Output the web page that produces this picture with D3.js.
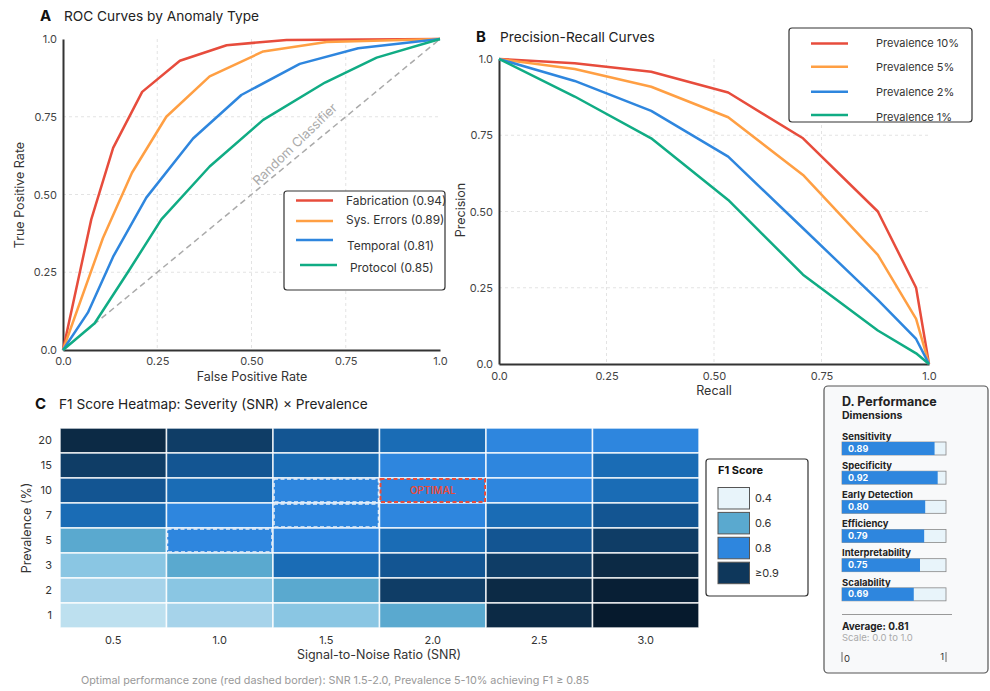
<!DOCTYPE html>
<html>
<head>
<meta charset="utf-8">
<script src="https://cdn.jsdelivr.net/npm/d3@7"></script>
<style>
  body { margin: 0; background: #fff; }
  svg { font-family: Inter, "Noto Sans", sans-serif; }
</style>
</head>
<body>
<svg id="chart"></svg>
<script>
// ---- data ----
const rocNames = ["Fabrication (0.94)", "Sys. Errors (0.89)", "Temporal (0.81)", "Protocol (0.85)"];
const rocFabrication = [[0,0],[0.075,0.42],[0.133,0.65],[0.21,0.83],[0.31,0.93],[0.434,0.98],[0.593,0.997],[1,1]];
const rocSysErrors   = [[0,0],[0.106,0.36],[0.183,0.57],[0.274,0.75],[0.389,0.88],[0.531,0.96],[0.699,0.99],[1,1]];
const rocTemporal    = [[0,0],[0.066,0.12],[0.133,0.30],[0.221,0.49],[0.345,0.68],[0.473,0.82],[0.628,0.92],[0.783,0.97],[1,1]];
const rocProtocol    = [[0,0],[0.084,0.086],[0.172,0.25],[0.261,0.42],[0.389,0.59],[0.531,0.74],[0.695,0.86],[0.832,0.94],[1,1]];

const prNames = ["Prevalence 10%", "Prevalence 5%", "Prevalence 2%", "Prevalence 1%"];
const recall = [0, 0.176, 0.354, 0.533, 0.707, 0.881, 0.97, 1.0];
const prec10 = [1, 0.986, 0.958, 0.89, 0.74, 0.50, 0.25, 0];
const prec5  = [1, 0.967, 0.909, 0.809, 0.62, 0.358, 0.148, 0];
const prec2  = [1, 0.928, 0.83, 0.68, 0.445, 0.21, 0.082, 0];
const prec1  = [1, 0.877, 0.74, 0.538, 0.293, 0.11, 0.035, 0];

const axisTicks = [0, 0.25, 0.5, 0.75, 1];
const axisTickLabels = ["0.0", "0.25", "0.50", "0.75", "1.0"];

const snrLevels = ["0.5", "1.0", "1.5", "2.0", "2.5", "3.0"];
const prevLevels = ["20", "15", "10", "7", "5", "3", "2", "1"];
const f1Grid = [
  [0.92, 0.89, 0.86, 0.83, 0.80, 0.80],
  [0.89, 0.86, 0.83, 0.80, 0.80, 0.83],
  [0.86, 0.83, 0.80, 0.80, 0.80, 0.83],
  [0.83, 0.80, 0.80, 0.80, 0.83, 0.86],
  [0.60, 0.80, 0.80, 0.83, 0.86, 0.89],
  [0.55, 0.60, 0.83, 0.86, 0.89, 0.92],
  [0.50, 0.55, 0.60, 0.89, 0.92, 0.94],
  [0.45, 0.50, 0.55, 0.60, 0.92, 0.95]
];
const highlightCells = [["1.5","10"], ["1.5","7"], ["1.0","5"]];
const optimalCell = ["2.0", "10"];
const f1LegendValues = [0.4, 0.6, 0.8, 0.9];
const f1LegendLabels = ["0.4", "0.6", "0.8", "≥0.9"];

const dimNames = ["Sensitivity", "Specificity", "Early Detection", "Efficiency", "Interpretability", "Scalability"];
const dimValues = [0.89, 0.92, 0.80, 0.79, 0.75, 0.69];

// ---- setup ----
const svg = d3.select("#chart").attr("width", 990).attr("height", 691);
const lineColors = ["#e74c3c", "#ff9f43", "#2e86de", "#10ac84"];

function panelTitle(x, y, letter, text) {
  svg.append("text").attr("x", x).attr("y", y).attr("dy", "0.35em")
    .attr("font-size", 15).attr("font-weight", 700).attr("fill", "#111").text(letter);
  svg.append("text").attr("x", x + 24).attr("y", y).attr("dy", "0.35em")
    .attr("font-size", 13.7).attr("fill", "#222").text(text);
}

function drawFrame(g, x, y, x0, x1, y0, y1, xLabelY) {
  // grid
  g.selectAll(".vg").data(axisTicks.slice(1, 4)).join("line")
    .attr("x1", d => x(d)).attr("x2", d => x(d)).attr("y1", y1).attr("y2", y0)
    .attr("stroke", "#e3e3e3").attr("stroke-dasharray", "3,3");
  g.selectAll(".hg").data(axisTicks.slice(1, 4)).join("line")
    .attr("class", "hg")
    .attr("x1", x0).attr("x2", x1).attr("y1", d => y(d)).attr("y2", d => y(d))
    .attr("stroke", "#e3e3e3").attr("stroke-dasharray", "3,3");

  const fmt = (d, i) => axisTickLabels[i];
  const xa = g.append("g").attr("transform", `translate(0,${y0})`)
    .call(d3.axisBottom(x).tickValues(axisTicks).tickFormat(fmt).tickSize(0).tickPadding(xLabelY));
  const ya = g.append("g").attr("transform", `translate(${x0},0)`)
    .call(d3.axisLeft(y).tickValues(axisTicks).tickFormat(fmt).tickSize(0).tickPadding(6));
  [xa, ya].forEach(a => {
    a.select(".domain").attr("stroke", "#333").attr("stroke-width", 2);
    a.selectAll("text").attr("font-size", 11).attr("fill", "#444").attr("font-family", "Inter, sans-serif");
  });
}

// ---- Panel A: ROC ----
panelTitle(40, 16, "A", "ROC Curves by Anomaly Type");
const ax = d3.scaleLinear().domain([0, 1]).range([63, 440]);
const ay = d3.scaleLinear().domain([0, 1]).range([350, 39]);
const gA = svg.append("g");
drawFrame(gA, ax, ay, 63, 440, 350, 39, 7);

gA.append("line").attr("x1", ax(0)).attr("y1", ay(0)).attr("x2", ax(1)).attr("y2", ay(1))
  .attr("stroke", "#aaa").attr("stroke-width", 1.5).attr("stroke-dasharray", "6,4");
gA.append("text").attr("transform", `translate(${ax(0.615)},${ay(0.662)}) rotate(-44)`)
  .attr("text-anchor", "middle").attr("dy", "0.35em")
  .attr("font-size", 13).attr("fill", "#aaa").text("Random Classifier");

const rocLine = d3.line().x(d => ax(d[0])).y(d => ay(d[1]));
[rocFabrication, rocSysErrors, rocTemporal, rocProtocol].forEach((s, i) => {
  gA.append("path").datum(s).attr("d", rocLine).attr("fill", "none")
    .attr("stroke", lineColors[i]).attr("stroke-width", 2.5).attr("stroke-linejoin", "round");
});

// legend A
const legA = svg.append("g");
const legALineY = [200.5, 221, 240, 265];
const legATextY = [201, 220, 246, 268];
const legALineX = [296, 296, 296, 300];
const legATextX = [346, 346, 347, 350];
legA.append("rect").attr("x", 284).attr("y", 191).attr("width", 161).attr("height", 99)
  .attr("rx", 3).attr("fill", "#fff").attr("stroke", "#333").attr("stroke-width", 1.2);
rocNames.forEach((n, i) => {
  legA.append("line").attr("x1", legALineX[i]).attr("x2", legALineX[i] + 37)
    .attr("y1", legALineY[i]).attr("y2", legALineY[i])
    .attr("stroke", lineColors[i]).attr("stroke-width", 2.5);
  legA.append("text").attr("x", legATextX[i]).attr("y", legATextY[i]).attr("dy", "0.35em")
    .attr("font-size", 11.9).attr("fill", "#333").text(n);
});

svg.append("text").attr("x", 252).attr("y", 377).attr("text-anchor", "middle").attr("dy", "0.35em")
  .attr("font-size", 12.5).attr("fill", "#333").text("False Positive Rate");
svg.append("text").attr("transform", "translate(20,195) rotate(-90)").attr("text-anchor", "middle")
  .attr("dy", "0.35em").attr("font-size", 12.5).attr("fill", "#333").text("True Positive Rate");

// ---- Panel B: PR ----
panelTitle(476, 37, "B", "Precision-Recall Curves");
const bx = d3.scaleLinear().domain([0, 1]).range([499, 929]);
const by = d3.scaleLinear().domain([0, 1]).range([364, 59]);
const gB = svg.append("g");
drawFrame(gB, bx, by, 499, 929, 364, 59, 8);

const prLine = d3.line().x((d, i) => bx(recall[i])).y(d => by(d));
[prec10, prec5, prec2, prec1].forEach((s, i) => {
  gB.append("path").datum(s).attr("d", prLine).attr("fill", "none")
    .attr("stroke", lineColors[i]).attr("stroke-width", 2.5).attr("stroke-linejoin", "round");
});

const legB = svg.append("g");
const legBLineY = [43.5, 66.7, 91.7, 115];
const legBTextY = [42.7, 66.7, 92.3, 116.7];
legB.append("rect").attr("x", 789).attr("y", 28).attr("width", 183).attr("height", 94)
  .attr("rx", 3).attr("fill", "#fff");
prNames.forEach((n, i) => {
  legB.append("line").attr("x1", 811).attr("x2", 848).attr("y1", legBLineY[i]).attr("y2", legBLineY[i])
    .attr("stroke", lineColors[i]).attr("stroke-width", 2.5);
  legB.append("text").attr("x", 876).attr("y", legBTextY[i]).attr("dy", "0.35em")
    .attr("font-size", 11).attr("fill", "#333").text(n);
});
legB.append("rect").attr("x", 789).attr("y", 28).attr("width", 183).attr("height", 94)
  .attr("rx", 3).attr("fill", "none").attr("stroke", "#333").attr("stroke-width", 1.2);

svg.append("text").attr("x", 714).attr("y", 391).attr("text-anchor", "middle").attr("dy", "0.35em")
  .attr("font-size", 12.5).attr("fill", "#333").text("Recall");
svg.append("text").attr("transform", "translate(461,210) rotate(-90)").attr("text-anchor", "middle")
  .attr("dy", "0.35em").attr("font-size", 12.5).attr("fill", "#333").text("Precision");

// ---- Panel C: heatmap ----
panelTitle(35, 404, "C", "F1 Score Heatmap: Severity (SNR) × Prevalence");
const hx = d3.scaleBand().domain(snrLevels).range([60, 699]);
const hy = d3.scaleBand().domain(prevLevels).range([428, 628]);
const color = d3.scaleLinear()
  .domain([0.40, 0.45, 0.50, 0.55, 0.60, 0.80, 0.83, 0.86, 0.89, 0.92, 0.95])
  .range(["#e8f4fa", "#bde0ef", "#a6d3ea", "#8ac6e3", "#5aa9cf", "#2e86de", "#1a6cb5", "#135592", "#0f3d66", "#0c2a45", "#061a2d"])
  .clamp(true);

const cells = [];
prevLevels.forEach((p, r) => snrLevels.forEach((s, c) => cells.push({ s, p, v: f1Grid[r][c] })));
const gC = svg.append("g");
gC.selectAll("rect.cell").data(cells).join("rect").attr("class", "cell")
  .attr("x", d => hx(d.s)).attr("y", d => hy(d.p))
  .attr("width", hx.bandwidth()).attr("height", hy.bandwidth())
  .attr("fill", d => color(d.v)).attr("stroke", "#fff").attr("stroke-width", 1.5)
  .attr("stroke-opacity", 0.85);

gC.selectAll("rect.hl").data(highlightCells).join("rect").attr("class", "hl")
  .attr("x", d => hx(d[0]) + 1).attr("y", d => hy(d[1]) + 1)
  .attr("width", hx.bandwidth() - 2).attr("height", hy.bandwidth() - 2)
  .attr("fill", "none").attr("stroke", "#e6eef8").attr("stroke-width", 1.5).attr("stroke-dasharray", "4,2.5");

gC.append("rect").attr("x", hx(optimalCell[0]) + 1).attr("y", hy(optimalCell[1]) + 1)
  .attr("width", hx.bandwidth() - 2).attr("height", hy.bandwidth() - 2)
  .attr("fill", "none").attr("stroke", "#e74c3c").attr("stroke-width", 2).attr("stroke-dasharray", "4,2.5");
gC.append("text").attr("x", hx(optimalCell[0]) + hx.bandwidth() / 2).attr("y", hy(optimalCell[1]) + hy.bandwidth() / 2)
  .attr("text-anchor", "middle").attr("dy", "0.35em").attr("font-size", 10).attr("font-weight", 600)
  .attr("font-family", "Inter, sans-serif").attr("fill", "#e74c3c").text("OPTIMAL");

const hxa = gC.append("g").attr("transform", "translate(0,628)")
  .call(d3.axisBottom(hx).tickSize(0).tickPadding(8));
const hya = gC.append("g").attr("transform", "translate(60,0)")
  .call(d3.axisLeft(hy).tickSize(0).tickPadding(8));
[hxa, hya].forEach(a => {
  a.select(".domain").remove();
  a.selectAll("text").attr("font-size", 11).attr("fill", "#333").attr("font-family", "Inter, sans-serif");
});
svg.append("text").attr("x", 379).attr("y", 655).attr("text-anchor", "middle").attr("dy", "0.35em")
  .attr("font-size", 12.5).attr("fill", "#333").text("Signal-to-Noise Ratio (SNR)");
svg.append("text").attr("transform", "translate(27,528) rotate(-90)").attr("text-anchor", "middle")
  .attr("dy", "0.35em").attr("font-size", 12.5).attr("fill", "#333").text("Prevalence (%)");

// F1 legend
const legC = svg.append("g");
legC.append("rect").attr("x", 706).attr("y", 459).attr("width", 102).attr("height", 137)
  .attr("rx", 3).attr("fill", "#fff").attr("stroke", "#333").attr("stroke-width", 1.2);
legC.append("text").attr("x", 718).attr("y", 470).attr("dy", "0.35em").attr("font-size", 11)
  .attr("font-weight", 700).attr("fill", "#111").text("F1 Score");
f1LegendValues.forEach((v, i) => {
  legC.append("rect").attr("x", 718).attr("y", 487.5 + i * 24.9).attr("width", 31.5).attr("height", 21.5)
    .attr("fill", color(v)).attr("stroke", "#555").attr("stroke-width", 1);
  legC.append("text").attr("x", 755).attr("y", 498 + i * 24.9).attr("dy", "0.35em")
    .attr("font-size", 11).attr("fill", "#333").text(f1LegendLabels[i]);
});

svg.append("text").attr("x", 335).attr("y", 680).attr("text-anchor", "middle").attr("dy", "0.35em")
  .attr("font-size", 10.8).attr("fill", "#999").text("Optimal performance zone (red dashed border): SNR 1.5-2.0, Prevalence 5-10% achieving F1 ≥ 0.85");

// ---- Panel D: performance dimensions ----
const gD = svg.append("g");
gD.append("rect").attr("x", 824).attr("y", 386).attr("width", 164).attr("height", 287)
  .attr("rx", 4).attr("fill", "#f8f9fa").attr("stroke", "#555").attr("stroke-width", 1.2);
gD.append("text").attr("x", 842).attr("y", 401.5).attr("dy", "0.35em").attr("font-size", 12.5)
  .attr("font-weight", 700).attr("fill", "#222").text("D. Performance");
gD.append("text").attr("x", 842).attr("y", 415).attr("dy", "0.35em").attr("font-size", 10.5)
  .attr("font-weight", 700).attr("fill", "#222").text("Dimensions");

const dx = d3.scaleLinear().domain([0, 1]).range([842, 946]);
const dy = d3.scaleBand().domain(dimNames).range([432, 607]);
dimNames.forEach((n, i) => {
  const y0 = dy(n);
  gD.append("text").attr("x", 842).attr("y", y0 + 4.5).attr("dy", "0.35em").attr("font-size", 9.5)
    .attr("font-weight", 700).attr("fill", "#222").text(n);
  gD.append("rect").attr("x", dx(0)).attr("y", y0 + 10).attr("width", dx(1) - dx(0)).attr("height", 13)
    .attr("fill", "#e8f4fa").attr("stroke", "#888").attr("stroke-width", 0.8);
  gD.append("rect").attr("x", dx(0)).attr("y", y0 + 10).attr("width", dx(dimValues[i]) - dx(0)).attr("height", 13)
    .attr("fill", "#2e86de");
  gD.append("text").attr("x", 848).attr("y", y0 + 16.5).attr("dy", "0.35em").attr("font-size", 9)
    .attr("font-weight", 700).attr("fill", "#fff").text(dimValues[i].toFixed(2));
});
gD.append("line").attr("x1", 842).attr("x2", 952).attr("y1", 614.5).attr("y2", 614.5)
  .attr("stroke", "#999").attr("stroke-width", 1);
const avg = d3.mean(dimValues);
gD.append("text").attr("x", 842).attr("y", 626).attr("dy", "0.35em").attr("font-size", 10)
  .attr("font-weight", 700).attr("fill", "#222").text("Average: " + avg.toFixed(2));
gD.append("text").attr("x", 842).attr("y", 638).attr("dy", "0.35em").attr("font-size", 9.5)
  .attr("fill", "#aaa").text("Scale: 0.0 to 1.0");
gD.append("line").attr("x1", dx(0)).attr("x2", dx(0)).attr("y1", 652).attr("y2", 662).attr("stroke", "#666");
gD.append("line").attr("x1", dx(1)).attr("x2", dx(1)).attr("y1", 652).attr("y2", 662).attr("stroke", "#666");
gD.append("text").attr("x", dx(0) + 2).attr("y", 659).attr("dy", "0.35em").attr("font-size", 9.5)
  .attr("fill", "#333").text("0");
gD.append("text").attr("x", dx(1) - 2).attr("y", 657).attr("dy", "0.35em").attr("text-anchor", "end")
  .attr("font-size", 9.5).attr("fill", "#333").text("1");
</script>
</body>
</html>
